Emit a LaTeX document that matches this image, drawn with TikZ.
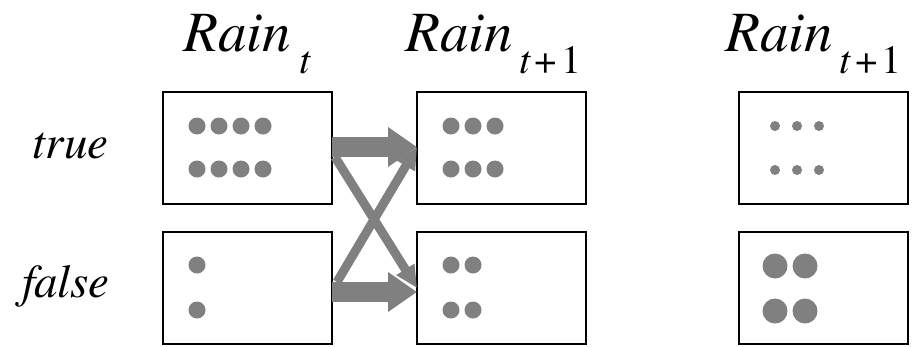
\documentclass[tikz,border=0pt]{standalone}
\usepackage{fontspec}
\setmainfont{texgyretermes}[Extension=.otf, UprightFont=*-regular, ItalicFont=*-italic, BoldFont=*-bold, BoldItalicFont=*-bolditalic]
\usetikzlibrary{arrows.meta}
\definecolor{dotgray}{RGB}{128,128,128}
\newcommand{\subsc}[1]{\raisebox{-22pt}{\fontsize{40}{40}\selectfont #1}}
\begin{document}
\begin{tikzpicture}[x=1pt,y=-1pt,
 box/.style={draw,line width=1.5pt,minimum width=169pt,minimum height=112pt,inner sep=0,outer sep=0},
 dotm/.style={circle,fill=dotgray,inner sep=0,minimum size=17pt},
 dots/.style={circle,fill=dotgray,inner sep=0,minimum size=10pt},
 dotl/.style={circle,fill=dotgray,inner sep=0,minimum size=25pt},
 title/.style={anchor=base west,inner sep=0,font=\fontsize{57}{57}\selectfont\itshape},
 lab/.style={anchor=base west,inner sep=0,font=\fontsize{47}{47}\selectfont\itshape},
 bigarrow/.style={draw=dotgray,line width=20pt,-{Triangle[width=38pt,length=29pt]}},
 thinarrow/.style={draw=dotgray,line width=9pt,-{Triangle[width=20pt,length=22pt]}}
]
\useasboundingbox (0,0) rectangle (918,346);
% titles
\node[title] (t1) at (183,51) {Rain\hspace{9pt}\subsc{t}};
\node[title] (t2) at (405,51) {Rain\hspace{7pt}\subsc{t\hspace{4pt}\upshape +\hspace{4pt}1}};
\node[title] (t3) at (725,51) {Rain\hspace{7pt}\subsc{t\hspace{4pt}\upshape +\hspace{4pt}1}};
% row labels
\node[lab] (ltrue) at (32,158) {true};
\node[lab] (lfalse) at (22,297) {false};
% boxes
\node[box] (b11) at (247.5,148) {};
\node[box] (b12) at (247.5,288) {};
\node[box] (b21) at (501.5,148) {};
\node[box] (b22) at (501.5,288) {};
\node[box] (b31) at (823.5,148) {};
\node[box] (b32) at (823.5,288) {};
% dots column 1
\foreach \x [count=\i] in {197,219,241,263} {
  \node[dotm] (pa\i) at (\x,126) {};
  \node[dotm] (pb\i) at (\x,169) {};
}
\node[dotm] (qa1) at (197,265) {};
\node[dotm] (qb1) at (197,310) {};
% dots column 2
\foreach \x [count=\i] in {451,473,495} {
  \node[dotm] (ra\i) at (\x,126) {};
  \node[dotm] (rb\i) at (\x,169) {};
}
\foreach \x [count=\i] in {451,473} {
  \node[dotm] (sa\i) at (\x,265) {};
  \node[dotm] (sb\i) at (\x,310) {};
}
% dots column 3
\foreach \x [count=\i] in {775,797,819} {
  \node[dots] (ua\i) at (\x,126) {};
  \node[dots] (ub\i) at (\x,170) {};
}
\foreach \x [count=\i] in {775,805} {
  \node[dotl] (va\i) at (\x,266) {};
  \node[dotl] (vb\i) at (\x,311) {};
}
% arrows
\draw[thinarrow] ([shift={(3,9)}]b11.east) -- ([shift={(0,0)}]b22.west);
\draw[thinarrow] ([shift={(5,-6)}]b12.east) -- ([shift={(0,-1)}]b21.west);
\draw[bigarrow] ([shift={(0,-1)}]b11.east) -- ([shift={(0,-1)}]b21.west);
\draw[bigarrow] ([shift={(0,4)}]b12.east) -- ([shift={(0,4)}]b22.west);
\end{tikzpicture}
\end{document}
